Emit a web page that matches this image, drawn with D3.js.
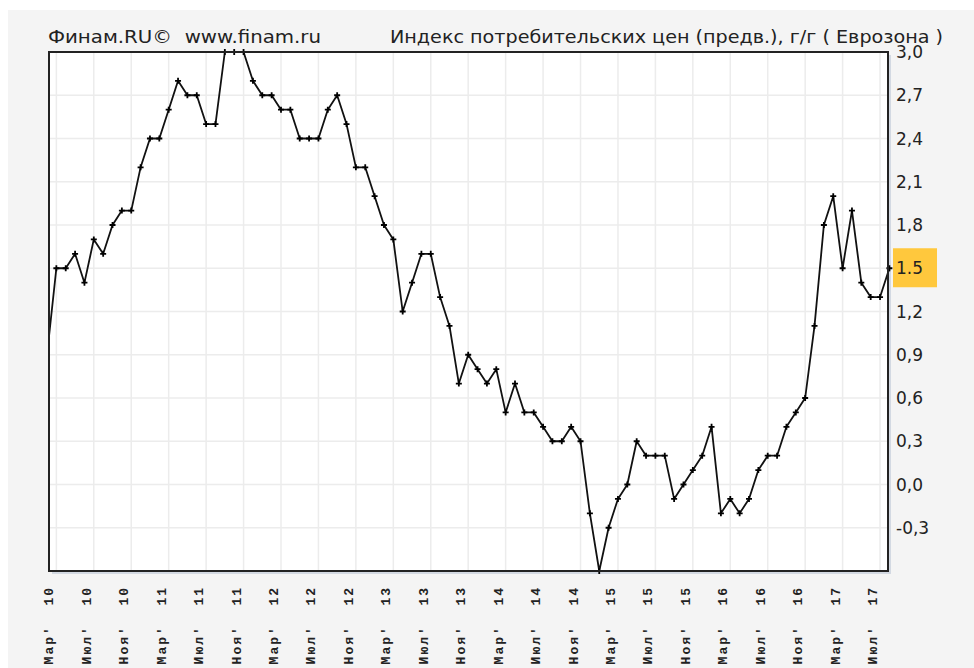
<!DOCTYPE html>
<html>
<head>
<meta charset="utf-8">
<script src="https://cdn.jsdelivr.net/npm/d3@7"></script>
<style>
  html, body { margin: 0; padding: 0; background: #fff; }
  svg { display: block; }
</style>
</head>
<body>
<svg id="chart" width="974" height="668"></svg>
<script>
// monthly CPI flash y/y, Eurozone, Feb 2010 .. Aug 2017
const startYear = 2010;
const startMonth = 2;
const cpi = [
  0.9, 1.5, 1.5, 1.6, 1.4, 1.7, 1.6, 1.8, 1.9, 1.9, 2.2,
  2.4, 2.4, 2.6, 2.8, 2.7, 2.7, 2.5, 2.5, 3.0, 3.0, 3.0, 2.8,
  2.7, 2.7, 2.6, 2.6, 2.4, 2.4, 2.4, 2.6, 2.7, 2.5, 2.2, 2.2,
  2.0, 1.8, 1.7, 1.2, 1.4, 1.6, 1.6, 1.3, 1.1, 0.7, 0.9, 0.8,
  0.7, 0.8, 0.5, 0.7, 0.5, 0.5, 0.4, 0.3, 0.3, 0.4, 0.3, -0.2,
  -0.6, -0.3, -0.1, 0.0, 0.3, 0.2, 0.2, 0.2, -0.1, 0.0, 0.1, 0.2,
  0.4, -0.2, -0.1, -0.2, -0.1, 0.1, 0.2, 0.2, 0.4, 0.5, 0.6, 1.1,
  1.8, 2.0, 1.5, 1.9, 1.4, 1.3, 1.3, 1.5
];

const tickMonths = ["03", "07", "11"];
const tickLabels = [
  "Мар'  10", "Июл'  10", "Ноя'  10",
  "Мар'  11", "Июл'  11", "Ноя'  11",
  "Мар'  12", "Июл'  12", "Ноя'  12",
  "Мар'  13", "Июл'  13", "Ноя'  13",
  "Мар'  14", "Июл'  14", "Ноя'  14",
  "Мар'  15", "Июл'  15", "Ноя'  15",
  "Мар'  16", "Июл'  16", "Ноя'  16",
  "Мар'  17", "Июл'  17"
];

const yTicks = [-0.3, 0, 0.3, 0.6, 0.9, 1.2, 1.5, 1.8, 2.1, 2.4, 2.7, 3.0];
const yDomain = [-0.6, 3.0];

const headerLeft = "Финам.RU©  www.finam.ru";
const headerRight = "Индекс потребительских цен (предв.), г/г ( Еврозона )";
const lastValueLabel = "1.5";

const monthKeys = cpi.map((_, i) => {
  const m = startMonth - 1 + i;
  return `${startYear + Math.floor(m / 12)}-${String((m % 12) + 1).padStart(2, "0")}`;
});
const data = monthKeys.map((key, i) => ({ key, value: cpi[i] }));
const tickKeys = monthKeys.filter((k) => tickMonths.includes(k.slice(5)));
const ticks = tickKeys.map((key, i) => ({ key, label: tickLabels[i] }));

const plot = { left: 49, right: 888, top: 52, bottom: 571 };
const svg = d3.select("#chart");

const ruLocale = d3.formatLocale({ decimal: ",", thousands: " ", grouping: [3], currency: ["", ""], minus: "-" });
const fmt = ruLocale.format(".1f");

const x = d3.scalePoint().domain(monthKeys).range([47, 889.4]);
const y = d3.scaleLinear().domain(yDomain).range([plot.bottom, plot.top]);

// panel background
svg.append("rect")
  .attr("x", 8).attr("y", 10)
  .attr("width", 966).attr("height", 658)
  .attr("fill", "#f4f4f4");

// frame shadow + plot area
svg.append("rect")
  .attr("x", plot.left + 3).attr("y", plot.top + 3)
  .attr("width", plot.right - plot.left).attr("height", plot.bottom - plot.top)
  .attr("fill", "#d3d9e2");

svg.append("rect")
  .attr("x", plot.left).attr("y", plot.top)
  .attr("width", plot.right - plot.left).attr("height", plot.bottom - plot.top)
  .attr("fill", "#fff");

// grid
const grid = svg.append("g").attr("stroke", "#ececec").attr("stroke-width", 1.5);

grid.selectAll("line.hgrid")
  .data(yTicks)
  .join("line")
  .attr("class", "hgrid")
  .attr("x1", plot.left).attr("x2", plot.right)
  .attr("y1", (d) => y(d)).attr("y2", (d) => y(d));

grid.selectAll("line.vgrid")
  .data(ticks)
  .join("line")
  .attr("class", "vgrid")
  .attr("x1", (d) => x(d.key)).attr("x2", (d) => x(d.key))
  .attr("y1", plot.top).attr("y2", plot.bottom);

// series
svg.append("defs")
  .append("clipPath")
  .attr("id", "plot-clip")
  .append("rect")
  .attr("x", plot.left + 1).attr("y", plot.top - 4)
  .attr("width", plot.right - plot.left + 4).attr("height", plot.bottom - plot.top + 8);

const series = svg.append("g").attr("clip-path", "url(#plot-clip)");

const line = d3.line()
  .x((d) => x(d.key))
  .y((d) => y(d.value));

series.append("path")
  .datum(data)
  .attr("d", line)
  .attr("fill", "none")
  .attr("stroke", "#111")
  .attr("stroke-width", 1.8)
  .attr("stroke-linejoin", "round");

series.selectAll("path.marker")
  .data(data)
  .join("path")
  .attr("class", "marker")
  .attr("transform", (d) => `translate(${x(d.key)},${y(d.value)})`)
  .attr("d", "M-3,0H3M0,-3V3")
  .attr("stroke", "#000")
  .attr("stroke-width", 1.8);

// frame
svg.append("rect")
  .attr("x", plot.left).attr("y", plot.top)
  .attr("width", plot.right - plot.left).attr("height", plot.bottom - plot.top)
  .attr("fill", "none")
  .attr("stroke", "#222")
  .attr("stroke-width", 2);

// y labels (right side)
svg.append("g")
  .selectAll("text")
  .data(yTicks)
  .join("text")
  .attr("x", 896)
  .attr("y", (d) => y(d))
  .attr("dy", "0.36em")
  .attr("font-family", "DejaVu Sans, sans-serif")
  .attr("font-size", 17)
  .attr("fill", "#222")
  .text((d) => fmt(d));

// last value marker box
const last = data[data.length - 1];
svg.append("rect")
  .attr("x", 893).attr("y", y(last.value) - 20)
  .attr("width", 44).attr("height", 39)
  .attr("fill", "#ffc83d");

svg.append("text")
  .attr("x", 896)
  .attr("y", y(last.value))
  .attr("dy", "0.36em")
  .attr("font-family", "DejaVu Sans, sans-serif")
  .attr("font-size", 17)
  .attr("fill", "#222")
  .text(lastValueLabel);

// x labels, rotated
svg.append("g")
  .selectAll("text")
  .data(ticks)
  .join("text")
  .attr("transform", (d) => `translate(${x(d.key) - 3},586) rotate(-90)`)
  .attr("text-anchor", "end")
  .attr("font-family", "Liberation Mono, monospace")
  .attr("font-size", 13)
  .attr("font-weight", "bold")
  .attr("letter-spacing", 2)
  .attr("fill", "#222")
  .style("white-space", "pre")
  .text((d) => d.label);

// headers
svg.append("text")
  .attr("x", 48).attr("y", 43)
  .attr("font-family", "DejaVu Sans, sans-serif")
  .attr("font-size", 18)
  .attr("fill", "#222")
  .attr("textLength", 273)
  .attr("lengthAdjust", "spacingAndGlyphs")
  .style("white-space", "pre")
  .text(headerLeft);

svg.append("text")
  .attr("x", 390).attr("y", 43)
  .attr("font-family", "DejaVu Sans, sans-serif")
  .attr("font-size", 18)
  .attr("fill", "#222")
  .attr("textLength", 553)
  .attr("lengthAdjust", "spacingAndGlyphs")
  .text(headerRight);
</script>
</body>
</html>
